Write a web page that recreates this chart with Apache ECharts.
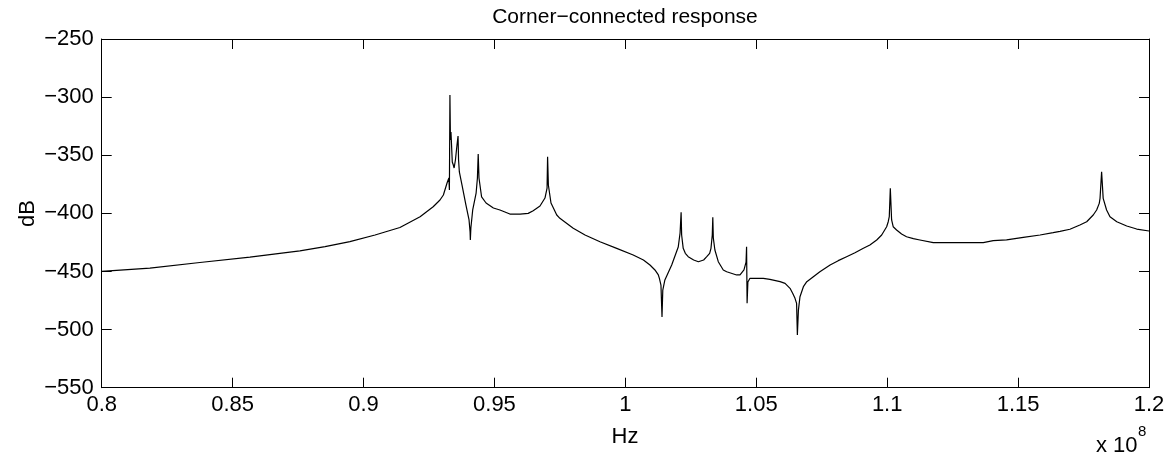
<!DOCTYPE html>
<html>
<head>
<meta charset="utf-8">
<script src="https://cdn.jsdelivr.net/npm/echarts@6/dist/echarts.min.js"></script>
<style>html,body{margin:0;padding:0;background:#fff;}#c{width:1170px;height:457px;}</style>
</head>
<body>
<div id="c"></div>
<script>
// Frequency in units of 1e8 Hz
const freq = [
  0.8000, 0.8184, 0.8375, 0.8566, 0.8757, 0.8853, 0.8948, 0.9044, 0.9139,
  0.9216, 0.9266, 0.9292, 0.9305, 0.9319, 0.9326, 0.9328, 0.9330, 0.9332,
  0.9334, 0.9337, 0.9339, 0.9343, 0.9346, 0.9351, 0.9357, 0.9361, 0.9363,
  0.9366, 0.9376, 0.9391, 0.9403, 0.9407, 0.9408, 0.9410, 0.9417, 0.9430,
  0.9435, 0.9438, 0.9441, 0.9451, 0.9468, 0.9496, 0.9521, 0.9559, 0.9598,
  0.9629, 0.9648, 0.9674, 0.9693, 0.9701, 0.9703, 0.9706, 0.9716, 0.9738,
  0.9750, 0.9769, 0.9801, 0.9846, 0.9903, 0.9967, 1.0030, 1.0069, 1.0094,
  1.0113, 1.0126, 1.0130, 1.0136, 1.0140, 1.0143, 1.0151, 1.0177, 1.0202,
  1.0209, 1.0213, 1.0215, 1.0221, 1.0229, 1.0240, 1.0261, 1.0279, 1.0299,
  1.0311, 1.0322, 1.0327, 1.0332, 1.0334, 1.0336, 1.0342, 1.0355, 1.0374,
  1.0387, 1.0425, 1.0438, 1.0453, 1.0461, 1.0463, 1.0465, 1.0468, 1.0476,
  1.0527, 1.0552, 1.0591, 1.0610, 1.0629, 1.0639, 1.0648, 1.0654, 1.0657,
  1.0661, 1.0667, 1.0680, 1.0693, 1.0718, 1.0743, 1.0782, 1.0813, 1.0845,
  1.0877, 1.0909, 1.0934, 1.0960, 1.0979, 1.0998, 1.1004, 1.1008, 1.1012,
  1.1017, 1.1023, 1.1036, 1.1055, 1.1074, 1.1100, 1.1125, 1.1176, 1.1240,
  1.1304, 1.1367, 1.1405, 1.1456, 1.1520, 1.1584, 1.1634, 1.1660, 1.1698,
  1.1736, 1.1762, 1.1787, 1.1800, 1.1810, 1.1813, 1.1819, 1.1825, 1.1838,
  1.1851, 1.1877, 1.1915, 1.1953, 1.2000
];
// Response in dB
const response = [
  -450.0, -447.2, -442.3, -437.7, -432.3, -428.7, -424.3, -418.6, -412.2,
  -402.9, -394.3, -388.5, -384.2, -373.9, -369.6, -379.9, -298.2, -336.9,
  -330.0, -345.5, -355.8, -358.4, -361.0, -354.1, -341.2, -333.5, -354.1,
  -364.4, -375.6, -392.8, -405.7, -416.0, -422.9, -412.6, -397.1, -382.5,
  -369.6, -348.9, -369.6, -385.9, -391.1, -395.4, -397.1, -400.6, -400.6,
  -400.0, -397.7, -393.7, -386.8, -378.2, -351.3, -375.6, -391.1, -401.4,
  -404.3, -407.4, -412.9, -418.6, -424.4, -430.1, -435.8, -440.1, -444.4,
  -448.7, -453.0, -455.9, -461.7, -489.2, -466.0, -457.3, -444.4, -429.0,
  -416.9, -399.1, -418.6, -430.1, -434.4, -437.3, -440.1, -441.6, -440.1,
  -437.3, -434.4, -430.1, -418.6, -403.4, -421.2, -431.5, -441.6, -448.7,
  -450.2, -453.0, -453.0, -448.7, -441.9, -428.7, -477.4, -459.1, -455.9,
  -455.9, -456.8, -458.8, -460.2, -464.5, -468.8, -473.1, -477.4, -504.7,
  -483.2, -471.7, -463.1, -458.8, -454.5, -450.2, -444.4, -440.7, -437.3,
  -433.9, -430.1, -427.2, -422.9, -418.6, -411.5, -407.2, -402.9, -378.5,
  -405.7, -411.5, -414.3, -417.8, -420.1, -421.8, -422.9, -425.2, -425.2,
  -425.2, -425.2, -423.5, -422.9, -420.6, -418.6, -416.6, -415.5, -413.7,
  -410.0, -407.2, -401.4, -397.1, -391.4, -387.1, -364.2, -387.1, -397.1,
  -402.9, -407.2, -410.9, -413.5, -415.2
];
const xTicks = [0.8, 0.85, 0.9, 0.95, 1, 1.05, 1.1, 1.15, 1.2];
const yTicks = [-550, -500, -450, -400, -350, -300, -250];
const titleText = 'Corner\u2212connected response';
const xLabel = 'Hz';
const yLabel = 'dB';

const FONT = '"Liberation Sans", Arial, Helvetica, sans-serif';
const FS = 21;
const TFS = 22;
const chart = echarts.init(document.getElementById('c'), null, {renderer: 'canvas'});
const pts = freq.map((f, i) => [f, response[i]]);
const fmtY = v => String(v).replace('-', '\u2212');
const baseX = {
  type: 'value', min: xTicks[0], max: xTicks[xTicks.length - 1], interval: 0.05,
  axisLine: {show: true, onZero: false, lineStyle: {color: '#000', width: 1}},
  axisTick: {show: true, inside: true, length: 10, lineStyle: {color: '#000', width: 1}},
  splitLine: {show: false}
};
const baseY = {
  type: 'value', min: yTicks[0], max: yTicks[yTicks.length - 1], interval: 50,
  axisLine: {show: true, onZero: false, lineStyle: {color: '#000', width: 1}},
  axisTick: {show: true, inside: true, length: 10, lineStyle: {color: '#000', width: 1}},
  splitLine: {show: false}
};
chart.setOption({
  animation: false,
  backgroundColor: '#fff',
  grid: {left: 101.7, top: 39, right: 21, bottom: 69.3, containLabel: false},
  xAxis: [
    Object.assign({}, baseX, {position: 'bottom',
      axisLabel: {show: true, color: '#000', fontFamily: FONT, fontSize: TFS, margin: 6,
        formatter: v => String(v)}}),
    Object.assign({}, baseX, {position: 'top', axisLabel: {show: false}})
  ],
  yAxis: [
    Object.assign({}, baseY, {position: 'left',
      axisLabel: {show: true, color: '#000', fontFamily: FONT, fontSize: TFS, margin: 8,
        formatter: fmtY}}),
    Object.assign({}, baseY, {position: 'right', axisLabel: {show: false}})
  ],
  series: [{
    type: 'line', data: pts, xAxisIndex: 0, yAxisIndex: 0,
    showSymbol: false, symbol: 'none', smooth: false,
    lineStyle: {color: '#000', width: 1.2}
  }],
  graphic: [
    {type: 'text', x: 625, y: 17, style: {text: titleText, font: FS + 'px ' + FONT, fill: '#000', align: 'center', verticalAlign: 'middle'}},
    {type: 'text', x: 625, y: 437, style: {text: xLabel, font: TFS + 'px ' + FONT, fill: '#000', align: 'center', verticalAlign: 'middle'}},
    {type: 'text', x: 28, y: 213.5, rotation: Math.PI / 2, style: {text: yLabel, font: TFS + 'px ' + FONT, fill: '#000', align: 'center', verticalAlign: 'middle'}},
    {type: 'text', x: 1096, y: 446, style: {text: 'x 10', font: TFS + 'px ' + FONT, fill: '#000', align: 'left', verticalAlign: 'middle'}},
    {type: 'text', x: 1138, y: 432, style: {text: '8', font: '15px ' + FONT, fill: '#000', align: 'left', verticalAlign: 'middle'}}
  ]
});
</script>
</body>
</html>
